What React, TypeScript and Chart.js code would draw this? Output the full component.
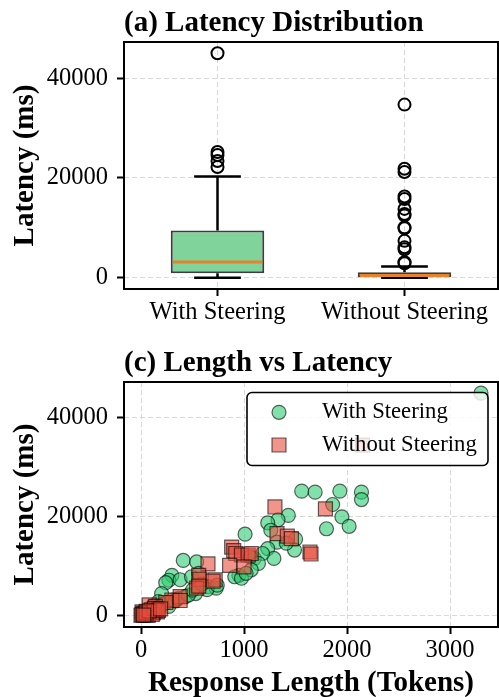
import React, { useEffect, useRef } from 'react';
import { Chart, registerables } from 'chart.js';

Chart.register(...registerables);

const FONT = "'Liberation Serif', 'Times New Roman', Times, serif";

// ---------- Panel (a): box plot ----------
const categories = ['With Steering', 'Without Steering'];
const whiskerLow = [0, 0];
const boxQ1 = [900, 80];
const boxMedian = [3150, 450];
const boxQ3 = [9450, 1100];
const whiskerHigh = [20300, 2270];
const outliersWith = [22200, 23400, 24600, 25200, 45000];
const outliersWithout = [2900, 3100, 5700, 6100, 7400, 9900, 10100, 12500, 12800, 13800, 15800, 16300, 21200, 21850, 34700];
const latencyTicks = [0, 20000, 40000];

// ---------- Panel (c): scatter ----------
const lengthTicks = [0, 1000, 2000, 3000];
const withSteeringPoints: [number, number][] = [
  [3300, 45000],
  [1560, 25200], [1690, 25000], [1930, 25200], [2140, 25000], [2140, 23500], [1860, 22500], [1950, 20000], [2020, 18100], [1800, 17600],
  [1430, 20300], [1330, 19400], [1230, 18800], [1260, 17300], [1320, 14900], [1500, 15500], [1490, 13300], [1410, 14700], [1230, 13600], [1290, 11600],
  [1010, 16500], [1100, 11600], [1180, 12600], [1060, 11900], [1140, 10600], [1070, 9300], [950, 8200], [910, 7900], [975, 7600], [1020, 8600],
  [410, 11200], [540, 10900], [300, 8200], [270, 7200], [380, 7300], [490, 7900], [240, 6700], [560, 8600], [200, 4500], [170, 2900],
  [650, 5900], [730, 5600], [640, 5300], [740, 6200], [300, 3200], [430, 3900], [530, 4500], [270, 1900], [90, 1200], [120, 2000],
  [20, 100], [40, 300], [60, 500], [80, 800], [100, 600], [130, 1100], [150, 1500], [180, 1700], [210, 2300], [240, 2600],
  [330, 3000], [360, 3500], [460, 4200], [500, 5200], [590, 6400], [30, 200], [50, 400], [110, 900], [70, 600], [160, 1300],
];
const withoutSteeringPoints: [number, number][] = [
  [2150, 34500],
  [1300, 22000], [1790, 21600], [1320, 16600], [1420, 16100], [1460, 15600], [1640, 12900], [1650, 12500],
  [880, 13900], [900, 13200], [920, 12600], [975, 12300], [1040, 12300], [1070, 12600], [1000, 9900], [860, 10200], [650, 10500],
  [560, 8200], [570, 7400], [720, 7300], [700, 7000], [540, 5600], [560, 6000], [380, 3900], [300, 3200], [380, 3100], [240, 2700],
  [80, 2200], [140, 1900], [10, 800], [50, 900], [100, 1200], [140, 1000], [30, 300], [0, 100], [20, 500], [60, 400], [90, 700],
  [120, 600], [150, 1300], [40, 200], [70, 100], [10, 300], [160, 800], [110, 300], [50, 600], [130, 1500], [170, 1100], [80, 1000],
  [25, 150], [190, 1400],
];
const seriesLabels = ['With Steering', 'Without Steering'];

const GREEN_BOX = '#80d49b';
const RED_BOX = 'rgba(231,76,60,0.6)';
const MEDIAN = '#e8822a';
const GREEN_PT = 'rgba(46,204,113,0.6)';
const RED_PT = 'rgba(231,76,60,0.6)';
const EDGE_PT = 'rgba(0,0,0,0.6)';
const GRID = '#d9d9d9';

const tickFont = { family: FONT, size: 24.5 };

function labelsPlugin(title: string, ylabel: string, xlabel?: string) {
  return {
    id: 'labels_' + title.slice(0, 3),
    afterDraw(chart: any) {
      const { ctx, chartArea: a } = chart;
      ctx.save();
      ctx.fillStyle = '#000';
      ctx.font = `bold 29px ${FONT}`;
      ctx.textAlign = 'left';
      ctx.textBaseline = 'alphabetic';
      ctx.fillText(title, a.left, 31);
      ctx.save();
      ctx.translate(33, (a.top + a.bottom) / 2);
      ctx.rotate(-Math.PI / 2);
      ctx.textAlign = 'center';
      ctx.fillText(ylabel, 0, 0);
      ctx.restore();
      if (xlabel) {
        ctx.textAlign = 'center';
        ctx.fillText(xlabel, (a.left + a.right) / 2, 351);
      }
      // frame
      ctx.strokeStyle = '#000';
      ctx.lineWidth = 2;
      ctx.strokeRect(a.left, a.top, a.right - a.left, a.bottom - a.top);
      ctx.restore();
    },
  };
}

const boxPartsPlugin = {
  id: 'boxParts',
  beforeDatasetsDraw(chart: any) {
    const ctx = chart.ctx;
    const y = chart.scales.y;
    const meta = chart.getDatasetMeta(0);
    ctx.save();
    ctx.strokeStyle = '#000';
    ctx.lineWidth = 2.5;
    categories.forEach((_, i) => {
      const bar = meta.data[i];
      const cx = bar.x;
      const capHalf = bar.width / 4;
      const pHi = y.getPixelForValue(whiskerHigh[i]);
      const pLo = y.getPixelForValue(whiskerLow[i]);
      ctx.beginPath();
      ctx.moveTo(cx, y.getPixelForValue(boxQ3[i]));
      ctx.lineTo(cx, pHi);
      ctx.moveTo(cx, y.getPixelForValue(boxQ1[i]));
      ctx.lineTo(cx, pLo);
      ctx.moveTo(cx - capHalf, pHi);
      ctx.lineTo(cx + capHalf, pHi);
      ctx.moveTo(cx - capHalf, pLo);
      ctx.lineTo(cx + capHalf, pLo);
      ctx.stroke();
    });
    ctx.restore();
  },
  afterDatasetDraw(chart: any, args: any) {
    if (args.index !== 0) return;
    const ctx = chart.ctx;
    const y = chart.scales.y;
    const meta = chart.getDatasetMeta(0);
    ctx.save();
    ctx.strokeStyle = MEDIAN;
    ctx.lineWidth = 3;
    categories.forEach((_, i) => {
      const bar = meta.data[i];
      const half = bar.width / 2 - 2;
      const py = y.getPixelForValue(boxMedian[i]);
      ctx.beginPath();
      ctx.moveTo(bar.x - half, py);
      ctx.lineTo(bar.x + half, py);
      ctx.stroke();
    });
    ctx.restore();
  },
};

const legendPlugin = {
  id: 'innerLegend',
  afterDatasetsDraw(chart: any) {
    const { ctx, chartArea: a } = chart;
    const right = a.right - 10;
    const top = a.top + 10.5;
    const w = 241;
    const h = 73;
    const left = right - w;
    ctx.save();
    ctx.beginPath();
    (ctx as any).roundRect(left, top, w, h, 5);
    ctx.fillStyle = 'rgba(255,255,255,0.8)';
    ctx.fill();
    ctx.strokeStyle = '#000';
    ctx.lineWidth = 1.6;
    ctx.stroke();
    const mx = left + 32;
    ctx.beginPath();
    ctx.arc(mx, top + 19.8, 7, 0, Math.PI * 2);
    ctx.fillStyle = GREEN_PT;
    ctx.fill();
    ctx.strokeStyle = EDGE_PT;
    ctx.lineWidth = 1.2;
    ctx.stroke();
    ctx.beginPath();
    ctx.rect(mx - 7, top + 52.5 - 7, 14, 14);
    ctx.fillStyle = RED_PT;
    ctx.fill();
    ctx.stroke();
    ctx.fillStyle = '#000';
    ctx.font = `22.7px ${FONT}`;
    ctx.textAlign = 'left';
    ctx.textBaseline = 'alphabetic';
    ctx.fillText(seriesLabels[0], left + 75, top + 25.2);
    ctx.fillText(seriesLabels[1], left + 75, top + 58.2);
    ctx.restore();
  },
};

function gridOpts() {
  return {
    display: true,
    color: GRID,
    lineWidth: 1,
    drawTicks: true,
    tickLength: 7,
    tickWidth: 2,
    tickColor: '#000',
  };
}

function yScale(width: number) {
  return {
    type: 'linear' as const,
    min: -2250,
    max: 47250,
    afterBuildTicks: (s: any) => {
      s.ticks = latencyTicks.map((v) => ({ value: v }));
    },
    afterFit: (s: any) => {
      s.width = width;
      s.paddingTop = 0;
      s.paddingBottom = 0;
    },
    ticks: { font: tickFont, color: '#000', padding: 9, callback: (v: any) => String(v) },
    grid: gridOpts(),
    border: { display: false, dash: [5, 3] },
  };
}

function fixX(height: number) {
  return (s: any) => {
    s.height = height;
    s.paddingLeft = 0;
    s.paddingRight = 0;
  };
}

const layoutOpts = { autoPadding: false, padding: { top: 42, right: 1, left: 0, bottom: 0 } };

export default function App() {
  const c1 = useRef<HTMLCanvasElement>(null);
  const c2 = useRef<HTMLCanvasElement>(null);

  useEffect(() => {
    const chart1 = new Chart(c1.current as HTMLCanvasElement, {
      type: 'bar',
      data: {
        labels: categories,
        datasets: [
          {
            type: 'bar',
            label: 'box',
            data: categories.map((_, i) => [boxQ1[i], boxQ3[i]]) as any,
            backgroundColor: [GREEN_BOX, RED_BOX],
            borderColor: 'rgba(40,40,40,0.9)',
            borderWidth: 2,
            borderSkipped: false,
            barPercentage: 0.5,
            categoryPercentage: 1,
            order: 2,
          } as any,
          {
            type: 'line',
            label: 'outliers',
            data: [
              ...outliersWith.map((v) => ({ x: categories[0], y: v })),
              ...outliersWithout.map((v) => ({ x: categories[1], y: v })),
            ] as any,
            showLine: false,
            pointRadius: 6,
            pointBorderWidth: 2,
            pointBorderColor: '#000',
            pointBackgroundColor: 'rgba(0,0,0,0)',
            order: 1,
          } as any,
        ],
      },
      options: {
        responsive: false,
        animation: false,
        events: [],
        layout: layoutOpts,
        plugins: { legend: { display: false }, tooltip: { enabled: false } },
        scales: {
          x: {
            type: 'category',
            offset: true,
            afterFit: fixX(51),
            ticks: { font: tickFont, color: '#000', padding: 2, autoSkip: false, maxRotation: 0 },
            grid: { ...gridOpts(), offset: false },
            border: { display: false, dash: [5, 3] },
          },
          y: yScale(124),
        } as any,
      } as any,
      plugins: [boxPartsPlugin, labelsPlugin('(a) Latency Distribution', 'Latency (ms)')],
    });

    const chart2 = new Chart(c2.current as HTMLCanvasElement, {
      type: 'scatter',
      data: {
        datasets: [
          {
            label: seriesLabels[0],
            data: withSteeringPoints.map(([x, y]) => ({ x, y })),
            pointStyle: 'circle',
            pointRadius: 7,
            backgroundColor: GREEN_PT,
            borderColor: EDGE_PT,
            borderWidth: 1.2,
            order: 2,
          },
          {
            label: seriesLabels[1],
            data: withoutSteeringPoints.map(([x, y]) => ({ x, y })),
            pointStyle: 'rect',
            pointRadius: 9.9,
            backgroundColor: RED_PT,
            borderColor: EDGE_PT,
            borderWidth: 1.2,
            order: 1,
          },
        ],
      },
      options: {
        responsive: false,
        animation: false,
        events: [],
        layout: layoutOpts,
        plugins: { legend: { display: false }, tooltip: { enabled: false } },
        scales: {
          x: {
            type: 'linear',
            position: 'bottom',
            min: -165,
            max: 3465,
            afterBuildTicks: (s: any) => {
              s.ticks = lengthTicks.map((v) => ({ value: v }));
            },
            afterFit: fixX(70),
            ticks: { font: tickFont, color: '#000', padding: 2, callback: (v: any) => String(v), maxRotation: 0 },
            grid: gridOpts(),
            border: { display: false, dash: [5, 3] },
          },
          y: yScale(124),
        } as any,
      } as any,
      plugins: [legendPlugin, labelsPlugin('(c) Length vs Latency', 'Latency (ms)', 'Response Length (Tokens)')],
    });

    return () => {
      chart1.destroy();
      chart2.destroy();
    };
  }, []);

  return (
    <div style={{ position: 'absolute', left: 0, top: 0, width: 499, height: 697, background: '#fff' }}>
      <div style={{ position: 'relative', width: 499, height: 340 }}>
        <canvas ref={c1} width={499} height={340} style={{ display: 'block' }} />
      </div>
      <div style={{ position: 'relative', width: 499, height: 357 }}>
        <canvas ref={c2} width={499} height={357} style={{ display: 'block' }} />
      </div>
    </div>
  );
}
